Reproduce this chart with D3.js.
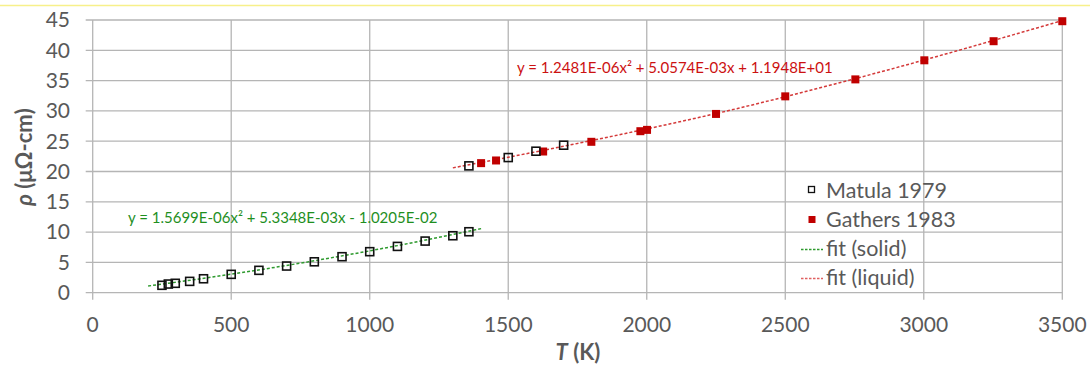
<!DOCTYPE html>
<html>
<head>
<meta charset="utf-8">
<script src="https://cdn.jsdelivr.net/npm/d3@7"></script>
<style>
  body { margin: 0; background: #fff; }
  svg { display: block; font-family: Lato, "Open Sans", sans-serif; }
</style>
</head>
<body>
<svg id="chart" width="1090" height="368"></svg>
<script>
// Matula 1979 (open squares)
const matulaT = [250, 273, 298, 350, 400, 500, 600, 700, 800, 900, 1000, 1100, 1200, 1300, 1358, 1358, 1500, 1600, 1700];
const matulaRho = [1.22, 1.43, 1.55, 1.87, 2.3, 3.03, 3.69, 4.4, 5.1, 5.94, 6.77, 7.64, 8.52, 9.4, 10.06, 20.93, 22.3, 23.35, 24.34];

// Gathers 1983 (filled squares)
const gathersT = [1402, 1456, 1626, 1800, 1977, 2001, 2250, 2500, 2753, 3002, 3252, 3500];
const gathersRho = [21.38, 21.82, 23.3, 24.9, 26.65, 26.87, 29.5, 32.4, 35.2, 38.35, 41.5, 44.8];

// trendlines, points
const solidFitT = [200, 500, 800, 1100, 1405];
const solidFitRho = [1.1, 3.05, 5.27, 7.77, 10.6];
const liquidFitT = [1300, 1800, 2300, 2800, 3500];
const liquidFitRho = [20.6, 25.1, 30.1, 35.9, 44.9];

const xTicks = [0, 500, 1000, 1500, 2000, 2500, 3000, 3500];
const yTicks = [0, 5, 10, 15, 20, 25, 30, 35, 40, 45];

const solidEq = 'y = 1.5699E-06x² + 5.3348E-03x - 1.0205E-02';
const liquidEq = 'y = 1.2481E-06x² + 5.0574E-03x + 1.1948E+01';

const svg = d3.select('svg#chart');
const GRID = '#b5b5b5';
const TEXT = '#595959';

const x = d3.scaleLinear().domain([0, 3500]).range([92.7, 1062.3]);
const y = d3.scaleLinear().domain([0, 45]).range([292.7, 20]);

// yellow line across the top
svg.append('line')
  .attr('x1', 0).attr('x2', 1090).attr('y1', 5.5).attr('y2', 5.5)
  .attr('stroke', '#f7f08a').attr('stroke-width', 1.5);

// gridlines (with tick stubs outside the plot)
svg.append('g').selectAll('line')
  .data(yTicks)
  .enter()
  .append('line')
  .attr('x1', x(0) - 7)
  .attr('x2', x(3500))
  .attr('y1', (d) => y(d))
  .attr('y2', (d) => y(d))
  .attr('stroke', GRID)
  .attr('stroke-width', 1.3);

svg.append('g').selectAll('line')
  .data(xTicks)
  .enter()
  .append('line')
  .attr('x1', (d) => x(d))
  .attr('x2', (d) => x(d))
  .attr('y1', y(45))
  .attr('y2', y(0) + 7)
  .attr('stroke', GRID)
  .attr('stroke-width', 1.3);

// tick labels
svg.append('g').selectAll('text')
  .data(yTicks)
  .enter()
  .append('text')
  .attr('x', 70)
  .attr('y', (d) => y(d))
  .attr('dy', '0.35em')
  .attr('text-anchor', 'end')
  .attr('font-size', '21px')
  .attr('fill', TEXT)
  .text((d) => d);

svg.append('g').selectAll('text')
  .data(xTicks)
  .enter()
  .append('text')
  .attr('x', (d) => x(d))
  .attr('y', 325)
  .attr('dy', '0.35em')
  .attr('text-anchor', 'middle')
  .attr('font-size', '21px')
  .attr('fill', TEXT)
  .text((d) => d);

// axis titles
const yTitle = svg.append('text')
  .attr('transform', 'translate(32,157) rotate(-90)')
  .attr('text-anchor', 'middle')
  .attr('font-size', '22px')
  .attr('font-weight', 'bold')
  .attr('fill', TEXT);
yTitle.append('tspan').attr('font-style', 'italic').text('ρ');
yTitle.append('tspan').text(' (μΩ-cm)');

const xTitle = svg.append('text')
  .attr('x', 578)
  .attr('y', 352)
  .attr('dy', '0.35em')
  .attr('text-anchor', 'middle')
  .attr('font-size', '22px')
  .attr('font-weight', 'bold')
  .attr('fill', TEXT);
xTitle.append('tspan').attr('font-style', 'italic').text('T');
xTitle.append('tspan').text(' (K)');

// fit lines
const line = d3.line()
  .x((d) => x(d[0]))
  .y((d) => y(d[1]))
  .curve(d3.curveMonotoneX);

svg.append('path')
  .attr('d', line(d3.zip(solidFitT, solidFitRho)))
  .attr('fill', 'none')
  .attr('stroke', '#2e9a2e')
  .attr('stroke-width', 1.5)
  .attr('stroke-dasharray', '3,2');

svg.append('path')
  .attr('d', line(d3.zip(liquidFitT, liquidFitRho)))
  .attr('fill', 'none')
  .attr('stroke', '#d43a3a')
  .attr('stroke-width', 1.5)
  .attr('stroke-dasharray', '3,2');

// markers
const S = 8;
svg.append('g').selectAll('rect')
  .data(d3.zip(gathersT, gathersRho))
  .enter()
  .append('rect')
  .attr('x', (d) => x(d[0]) - S / 2)
  .attr('y', (d) => y(d[1]) - S / 2)
  .attr('width', S)
  .attr('height', S)
  .attr('fill', '#c00000');

svg.append('g').selectAll('rect')
  .data(d3.zip(matulaT, matulaRho))
  .enter()
  .append('rect')
  .attr('x', (d) => x(d[0]) - S / 2)
  .attr('y', (d) => y(d[1]) - S / 2)
  .attr('width', S)
  .attr('height', S)
  .attr('fill', 'none')
  .attr('stroke', '#111')
  .attr('stroke-width', 1.6);

// equations
svg.append('text')
  .attr('x', 128)
  .attr('y', 218)
  .attr('dy', '0.35em')
  .attr('font-size', '15px')
  .attr('fill', '#1f8f1f')
  .text(solidEq);

svg.append('text')
  .attr('x', 517)
  .attr('y', 68)
  .attr('dy', '0.35em')
  .attr('font-size', '15px')
  .attr('fill', '#cc1111')
  .text(liquidEq);

// legend
const legend = svg.append('g');
const rows = [190, 219.5, 248.5, 277.5];
legend.append('rect')
  .attr('x', 808.5).attr('y', rows[0] - 3.5).attr('width', 6).attr('height', 6)
  .attr('fill', 'none').attr('stroke', '#111').attr('stroke-width', 1.3);
legend.append('rect')
  .attr('x', 808.5).attr('y', rows[1] - 3.5).attr('width', 7).attr('height', 7)
  .attr('fill', '#c00000');
legend.append('line')
  .attr('x1', 801).attr('x2', 823).attr('y1', rows[2] + 1).attr('y2', rows[2] + 1)
  .attr('stroke', '#2e9a2e').attr('stroke-width', 1.3).attr('stroke-dasharray', '2.5,1.5');
legend.append('line')
  .attr('x1', 801).attr('x2', 823).attr('y1', rows[3] + 1).attr('y2', rows[3] + 1)
  .attr('stroke', '#e06060').attr('stroke-width', 1.3).attr('stroke-dasharray', '2.5,1.5');

const labels = ['Matula 1979', 'Gathers 1983', 'fit (solid)', 'fit (liquid)'];
legend.selectAll('text')
  .data(labels)
  .enter()
  .append('text')
  .attr('x', 826)
  .attr('y', (d, i) => rows[i])
  .attr('dy', '0.35em')
  .attr('font-size', '21.5px')
  .attr('fill', TEXT)
  .text((d) => d);
</script>
</body>
</html>
